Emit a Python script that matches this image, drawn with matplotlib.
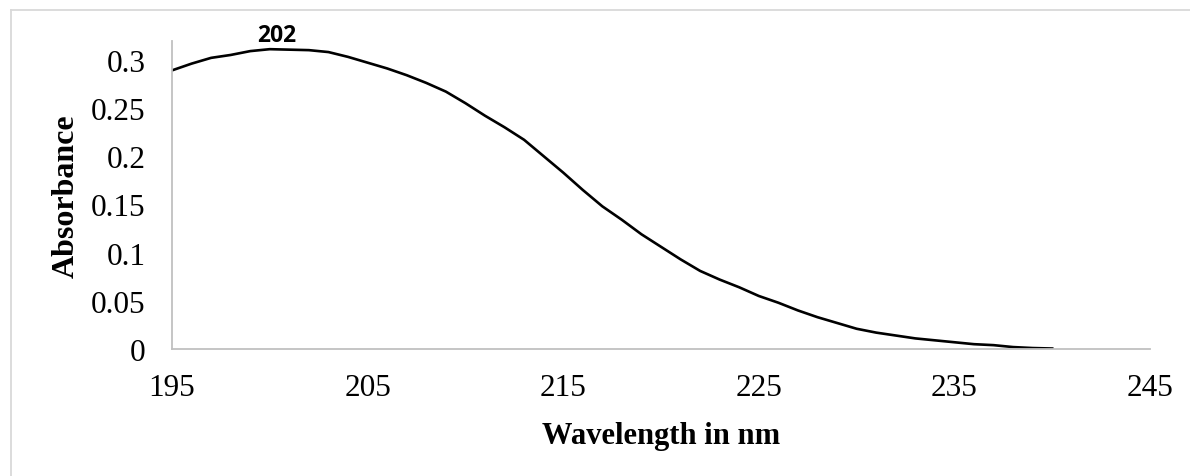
#!/usr/bin/env python3

import matplotlib
matplotlib.use('Agg')
import matplotlib.pyplot as plt
from matplotlib.lines import Line2D

wavelength = list(range(195, 241))
absorbance = [0.289, 0.296, 0.302, 0.305, 0.309, 0.311, 0.3105, 0.310, 0.308, 0.303,
              0.297, 0.291, 0.284, 0.276, 0.267, 0.255, 0.242, 0.230, 0.217, 0.200,
              0.183, 0.165, 0.148, 0.134, 0.119, 0.106, 0.093, 0.081, 0.072, 0.064,
              0.055, 0.048, 0.040, 0.033, 0.027, 0.021, 0.017, 0.014, 0.011, 0.009,
              0.007, 0.005, 0.004, 0.002, 0.001, 0.0005]
peak_label = '202'

x_ticks = [195, 205, 215, 225, 235, 245]
y_ticks = [0, 0.05, 0.1, 0.15, 0.2, 0.25, 0.3]
y_tick_labels = ['0', '0.05', '0.1', '0.15', '0.2', '0.25', '0.3']

W, H = 1190, 477
fig = plt.figure(figsize=(W / 100, H / 100), dpi=100)
ax = fig.add_axes([172 / W, 1 - 350 / H, (1150 - 172) / W, (350 - 41.5) / H])

# outer frame (only top and left visible)
frame_c = '#d9d9d9'
fig.add_artist(Line2D([10.5 / W, 10.5 / W], [0, 1 - 10.5 / H], color=frame_c, lw=1.3))
fig.add_artist(Line2D([10.5 / W, 1], [1 - 10.5 / H, 1 - 10.5 / H], color=frame_c, lw=1.3))

ax.plot(wavelength, absorbance, color='black', lw=1.9, solid_joinstyle='round')

i = absorbance.index(max(absorbance))
ax.annotate(peak_label, (wavelength[i], absorbance[i]), xytext=(5, 10),
            textcoords='offset points', ha='center', va='center',
            fontsize=16.5, fontweight='bold', family='Open Sans')

ax.set_xlim(195, 245)
ax.set_ylim(0, 0.32)
ax.set_xticks(x_ticks)
ax.set_yticks(y_ticks)
ax.set_yticklabels(y_tick_labels)
ax.tick_params(length=0, labelsize=22.5)
ax.tick_params(axis='x', pad=17)
ax.tick_params(axis='y', pad=19)
for lab in ax.get_xticklabels() + ax.get_yticklabels():
    lab.set_family('Liberation Serif')

for s in ['top', 'right']:
    ax.spines[s].set_visible(False)
for s in ['left', 'bottom']:
    ax.spines[s].set_color('#c0c0c0')
    ax.spines[s].set_linewidth(1.3)

ax.set_xlabel('Wavelength in nm', family='Liberation Serif', fontsize=22, fontweight='bold')
ax.set_ylabel('Absorbance', family='Liberation Serif', fontsize=23, fontweight='bold')
ax.xaxis.set_label_coords(0.5, -0.232)
ax.yaxis.set_label_coords(-0.093, 0.5)
ax.xaxis.label.set_va('top')

plt.savefig('out.png', dpi=100)
